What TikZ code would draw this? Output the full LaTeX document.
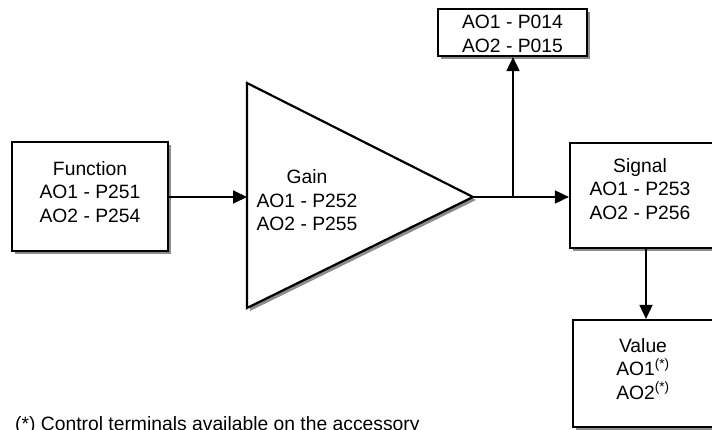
\documentclass[tikz,border=0pt]{standalone}
\usepackage{fontspec}
\setmainfont{Liberation Sans}
\usetikzlibrary{arrows.meta,shadows}
\begin{document}
\begin{tikzpicture}[x=1pt,y=-1pt,
  font=\fontsize{19.3}{23.5}\selectfont,
  shad/.style={drop shadow={shadow xshift=3pt,shadow yshift=-3pt,fill=black!45,opacity=1}},
  blk/.style={draw=black,line width=2.2pt,fill=white,shad,inner sep=0pt,align=center},
  txt/.style={align=center,inner sep=0pt},
  conn/.style={line width=1.8pt},
  arr/.style={conn,-{Triangle[length=14pt,width=13pt]}}]
\useasboundingbox (0,0) rectangle (712,430);
\clip (0,0) rectangle (712,430);
% boxes
\node[blk,minimum width=156pt,minimum height=109pt] (fn) at (90,196.5) {};
\node[txt] at (90,192) {Function\\AO1 - P251\\AO2 - P254};
\node[blk,minimum width=149pt,minimum height=47pt] (top) at (512.5,32.5) {};
\node[txt] at (512.5,34) {AO1 - P014\\AO2 - P015};
\node[blk,minimum width=170pt,minimum height=105pt] (sig) at (655,195.5) {};
\node[txt] at (640,189) {Signal\\AO1 - P253\\AO2 - P256};
\node[blk,minimum width=167pt,minimum height=107pt] (val) at (656.5,373.5) {};
\node[txt] at (643,369) {Value\\AO1\textsuperscript{(*)}\\AO2\textsuperscript{(*)}};
% triangle
\draw[line width=2.2pt,fill=white,line join=miter,shad] (247,83) -- (473,197) -- (247,308) -- cycle;
\coordinate (gin) at (247,197);
\coordinate (gout) at (473,197);
\coordinate (br) at (513,197);
\coordinate (dv) at (646,0);
\node[txt] at (307,200.5) {Gain\\AO1 - P252\\AO2 - P255};
% connectors
\draw[arr] (fn.east |- gin) -- (gin);
\draw[conn] (gout) -- (br);
\draw[arr] (br) -- (br -| sig.west);
\draw[arr] (br) -- (br |- top.south);
\draw[arr] (dv |- sig.south) -- (dv |- val.north);
% footnote
\node[anchor=base west,inner sep=0pt] (note) at (15,430) {(*) Control terminals available on the accessory};
\end{tikzpicture}
\end{document}
